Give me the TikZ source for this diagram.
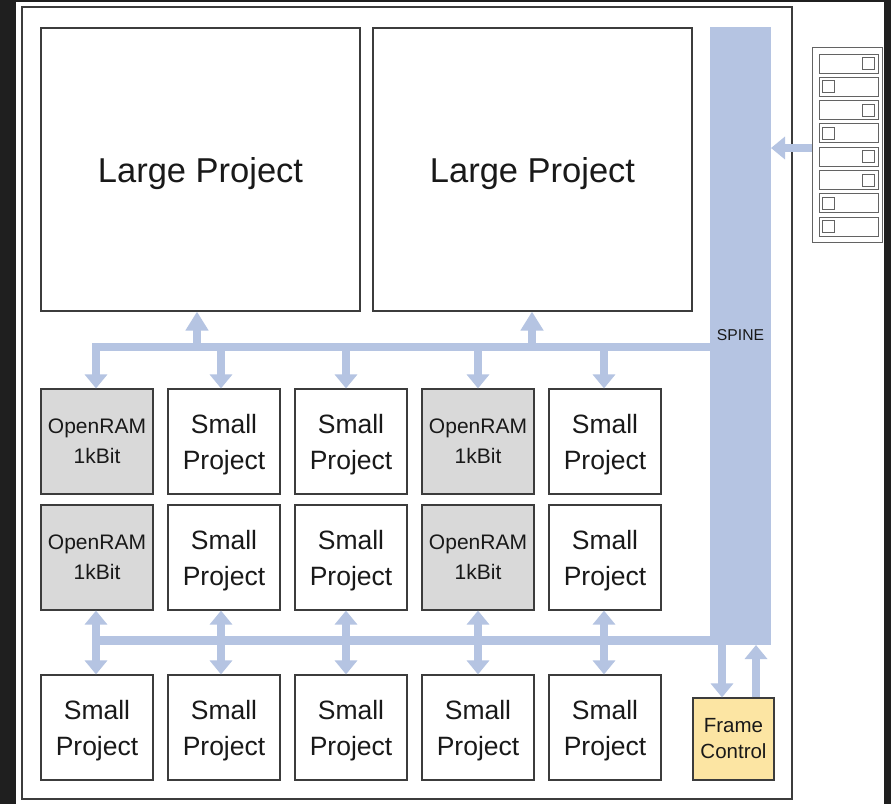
\documentclass[tikz,border=0pt]{standalone}
\usepackage{fontspec}
\setmainfont{Liberation Sans}
\usetikzlibrary{arrows.meta}
\definecolor{busblue}{RGB}{181,196,226}
\definecolor{ramgray}{RGB}{217,217,217}
\definecolor{fcyellow}{RGB}{252,229,163}
\definecolor{edge}{RGB}{60,60,60}
\tikzset{
  box/.style={draw=edge, line width=1.2pt, inner sep=0pt, align=center, text=black!90},
  large/.style={box, fill=white, minimum width=319pt, minimum height=283pt, text depth=0pt, font=\fontsize{34.5}{40}\selectfont},
  small/.style={box, fill=white, minimum width=112pt, minimum height=105pt, text depth=0pt, font=\fontsize{26.5}{36}\selectfont},
  ram/.style={box, fill=ramgray, minimum width=112pt, minimum height=105pt, font=\fontsize{21}{30}\selectfont},
  fc/.style={box, fill=fcyellow, minimum width=81pt, minimum height=82pt, font=\fontsize{20.5}{26}\selectfont},
  arr/.style={draw=busblue, line width=8pt, -{Triangle[width=22pt,length=14pt]}},
  uparr/.style={draw=busblue, line width=8pt, -{Triangle[width=22pt,length=19pt]}},
  darr/.style={draw=busblue, line width=8pt, {Triangle[width=22pt,length=14pt]}-{Triangle[width=22pt,length=14pt]}},
  bus/.style={draw=busblue, line width=8.5pt},
  regrow/.style={draw=edge!80, line width=0.9pt, minimum width=59pt, minimum height=19pt, inner sep=0pt},
  regbit/.style={draw=edge!80, line width=0.9pt, minimum width=12pt, minimum height=12pt, inner sep=0pt},
}
\begin{document}
\begin{tikzpicture}[x=1pt,y=-1pt]
\useasboundingbox (0,0) rectangle (891,804);
\fill[black!88] (0,0) rectangle (891,804);
\fill[white] (16,2) rectangle (884,804);
% outer frame
\draw[edge, line width=1.5pt] (22,7) rectangle (792,799);

% spine
\fill[busblue] (710,27) rectangle (771,645);
\node[font=\fontsize{15.7}{18}\selectfont, text=black!90] (spine) at (740.5,335) {SPINE};
\coordinate (spineE) at (771,148);

% buses
\coordinate (tbL) at (92,347);
\coordinate (tbR) at (711,347);
\coordinate (bbL) at (92,640.5);
\coordinate (bbR) at (711,640.5);
\draw[bus] (tbL) -- (tbR);
\draw[bus] (bbL) -- (bbR);

% large projects
\node[large] (lp1) at (200.5,169.5) {Large Project};
\node[large] (lp2) at (532.5,169.5) {Large Project};

% grid
\node[ram]   (r11) at (97,441.5)  {OpenRAM\\1kBit};
\node[small] (r12) at (224,441.5) {Small\\Project};
\node[small] (r13) at (351,441.5) {Small\\Project};
\node[ram]   (r14) at (478,441.5) {OpenRAM\\1kBit};
\node[small] (r15) at (605,441.5) {Small\\Project};

\node[ram]   (r21) at (97,557.5)  {OpenRAM\\1kBit};
\node[small] (r22) at (224,557.5) {Small\\Project};
\node[small] (r23) at (351,557.5) {Small\\Project};
\node[ram]   (r24) at (478,557.5) {OpenRAM\\1kBit};
\node[small] (r25) at (605,557.5) {Small\\Project};

\node[small] (r31) at (97,727.5)  {Small\\Project};
\node[small] (r32) at (224,727.5) {Small\\Project};
\node[small] (r33) at (351,727.5) {Small\\Project};
\node[small] (r34) at (478,727.5) {Small\\Project};
\node[small] (r35) at (605,727.5) {Small\\Project};

\node[fc] (fc) at (733.5,739) {Frame\\Control};

% arrows to large projects
\coordinate (u1) at (197,347);
\coordinate (u2) at (532,347);
\draw[uparr] (u1) -- (u1 |- lp1.south);
\draw[uparr] (u2) -- (u2 |- lp2.south);

% arrows down from top bus
\foreach \x/\n in {96/1,221/2,346/3,478/4,604/5}{
  \coordinate (t\n) at (\x,347);
  \draw[arr] (t\n) -- (t\n |- r1\n.north);
}
% double arrows between rows 2 and 3
\foreach \x/\n in {96/1,221/2,346/3,478/4,604/5}{
  \coordinate (b\n) at (\x,640);
  \draw[darr] (b\n |- r2\n.south) -- (b\n |- r3\n.north);
}

% frame control arrows
\coordinate (fd) at (722,640);
\coordinate (fu) at (756,645);
\draw[arr] (fd) -- (fd |- fc.north);
\draw[arr] (fu |- fc.north) -- (fu);

% configuration register
\node[draw=edge!80, line width=1pt, minimum width=70pt, minimum height=195pt, inner sep=0pt] (reg) at (847,144.5) {};
\foreach \i/\side in {0/R,1/L,2/R,3/L,4/R,5/R,6/L,7/L}{
  \pgfmathsetmacro{\yy}{63.5+23.3*\i}
  \node[regrow] (row\i) at (848.5,\yy) {};
  \if\side R
    \node[regbit] (bit\i) at (868,\yy) {};
  \else
    \node[regbit] (bit\i) at (828,\yy) {};
  \fi
}
\coordinate (regin) at (812,148);
\draw[arr] (regin) -- (spineE);
\end{tikzpicture}
\end{document}
